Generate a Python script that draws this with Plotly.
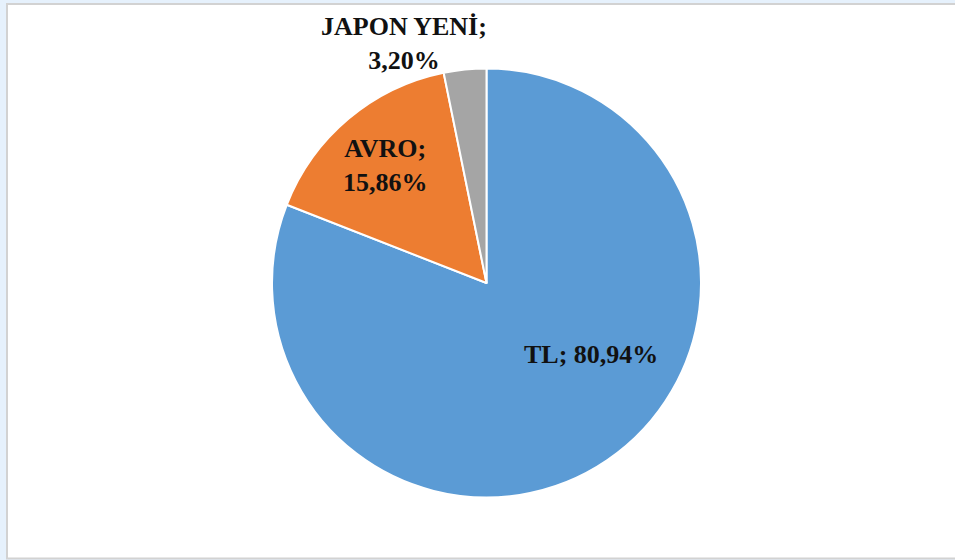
import plotly.graph_objects as go

labels = ["TL", "AVRO", "JAPON YENİ"]
values = [80.94, 15.86, 3.20]
colors = ["#5B9BD5", "#ED7D31", "#A5A5A5"]
# label anchor positions (paper fractions) and line-break choices
label_x = [591 / 955, 385 / 955, 404 / 955]
label_y = [1 - 354 / 560, 1 - 165 / 560, 1 - 44 / 560]
label_sep = ["; ", ";<br>", ";<br>"]

W, H = 955, 560
cx, cy, r = 486.5, 283, 214.5

fig = go.Figure()
fig.add_trace(go.Pie(
    labels=labels,
    values=values,
    sort=False,
    direction="clockwise",
    rotation=0,
    textinfo="none",
    hoverinfo="label+percent",
    marker=dict(colors=colors, line=dict(color="white", width=2)),
    domain=dict(x=[(cx - r) / W, (cx + r) / W], y=[(H - cy - r) / H, (H - cy + r) / H]),
    showlegend=False,
))

for lab, v, x, y, sep in zip(labels, values, label_x, label_y, label_sep):
    txt = f"<b>{lab}{sep}{v:.2f}%</b>".replace(".", ",")
    fig.add_annotation(x=x, y=y, xref="paper", yref="paper", text=txt, showarrow=False,
                       xanchor="center", yanchor="middle", align="center",
                       font=dict(family="Liberation Serif, Times New Roman, serif", size=26, color="#111111"))

fig.add_shape(type="rect", xref="paper", yref="paper", x0=7 / W, x1=1.02, y0=1.5 / H, y1=(H - 4) / H,
              fillcolor="white", line=dict(color="#d2d2d2", width=2), layer="below")

fig.update_layout(width=W, height=H, margin=dict(l=0, r=0, t=0, b=0),
                  paper_bgcolor="#e6f1fc", plot_bgcolor="white")

fig.write_html("out.html", config={"displayModeBar": False},
               post_script="document.body.style.margin='0';document.body.style.overflow='hidden';")
